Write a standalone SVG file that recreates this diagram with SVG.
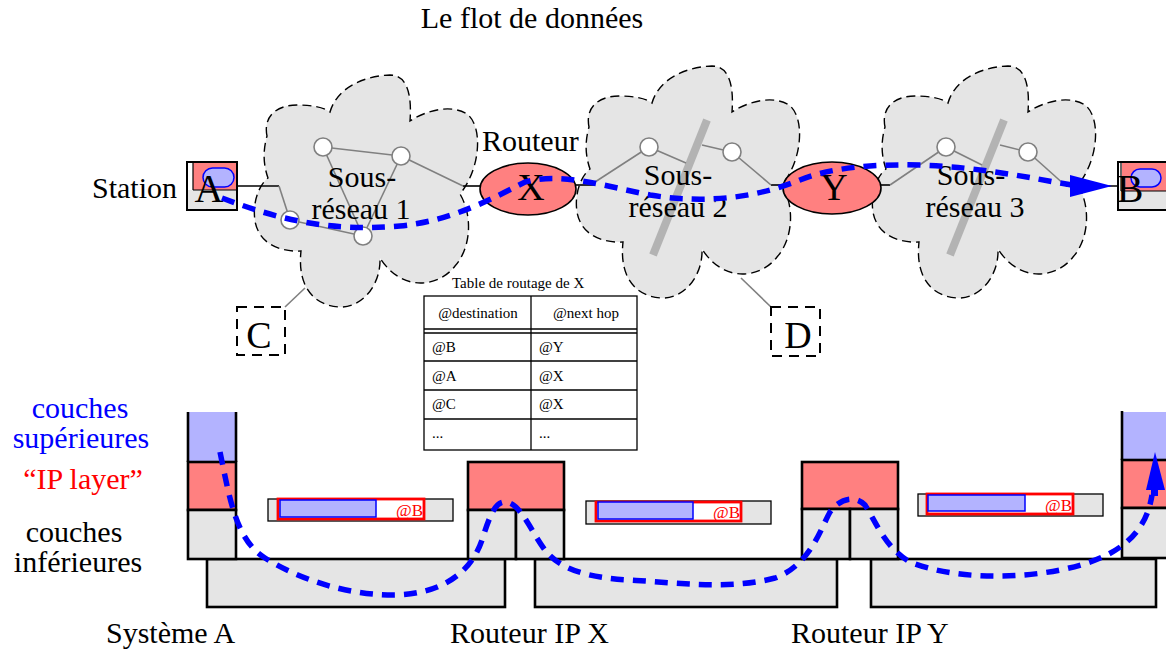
<svg xmlns="http://www.w3.org/2000/svg" xmlns:xlink="http://www.w3.org/1999/xlink" width="1166" height="655" viewBox="0 0 1166 655">
<style>
.cloud{fill:#e5e5e5;stroke:#000;stroke-width:1.4;stroke-dasharray:9 5}
.gl{stroke:#808080;stroke-width:1.6;fill:none}
.nd{fill:#fff;stroke:#808080;stroke-width:1.6}
.bar{stroke:#b3b3b3;stroke-width:8}
.bl{stroke:#000;stroke-width:1.6;fill:none}
.t{font-family:"Liberation Serif","Times New Roman",serif;fill:#000}
.flow{fill:none;stroke:#0000ff;stroke-width:5.5;stroke-dasharray:13 9}
.lay{stroke:#000;stroke-width:2.6}
.gray{fill:#e5e5e5}
.pink{fill:#ff8080}
.lblue{fill:#b3b3ff}
.cellt{font-size:15px}
.lbl{font-size:30px}
.big{font-size:40px}
.pk{fill:#e5e5e5;stroke:#000;stroke-width:1.3}
.pkr{fill:#fff;stroke:#ff0000;stroke-width:2.8}
.pkb{fill:#b3b3ff;stroke:#0000ff;stroke-width:1.5}
.pkt{font-size:17px;fill:#ff0000}
</style>
<defs>
<path id="cloudshape" d="M 12,60 C 8,40 22,29 42,29 C 56,29 68,31 75,36 C 82,12 108,0 135,-1 C 152,-1 157,18 155,45 C 172,34 196,28 212,38 C 228,50 226,92 205,118 C 218,140 216,172 200,190 C 185,210 148,218 125,182 C 126,210 106,232 85,231 C 60,230 42,212 46,175 C 25,176 4,168 0,145 C -3,125 5,108 13,102 C 8,88 8,74 12,60 Z"/>
</defs>
<rect width="1166" height="655" fill="#fff"/>
<text class="t" x="532" y="28" font-size="30" text-anchor="middle">Le flot de données</text>

<g id="cloud1">
<use xlink:href="#cloudshape" class="cloud" transform="translate(255,76)"/>
</g>
<g id="cloud2">
<use xlink:href="#cloudshape" class="cloud" transform="translate(577,67)"/>
</g>
<g id="cloud3">
<use xlink:href="#cloudshape" class="cloud" transform="translate(873,67)"/>
</g>

<g id="connectors">
<line class="bl" x1="237" y1="186" x2="279" y2="186"/>
<line class="bl" x1="463" y1="186" x2="481" y2="186"/>
<line class="bl" x1="576" y1="185" x2="595" y2="185"/>
<line class="bl" x1="771" y1="185" x2="785" y2="185"/>
<line class="bl" x1="880" y1="185" x2="890" y2="185"/>
<line class="bl" x1="1066" y1="186" x2="1118" y2="186"/>
<line class="gl" x1="285" y1="307" x2="305" y2="288"/>
<line class="gl" x1="771" y1="307" x2="741" y2="278"/>
<line class="gl" x1="323" y1="147" x2="401" y2="156"/>
<line class="gl" x1="323" y1="147" x2="363" y2="236"/>
<line class="gl" x1="401" y1="156" x2="363" y2="236"/>
<line class="gl" x1="290" y1="220" x2="363" y2="236"/>
<line class="gl" x1="401" y1="156" x2="463" y2="186"/>
<line class="gl" x1="290" y1="220" x2="279" y2="186"/>
<line class="bar" x1="707" y1="120" x2="653" y2="255"/>
<line class="gl" x1="595" y1="182" x2="649" y2="147"/>
<line class="gl" x1="649" y1="147" x2="686" y2="163"/>
<line class="gl" x1="702" y1="145" x2="732" y2="152"/>
<line class="gl" x1="732" y1="152" x2="771" y2="185"/>
<line class="bar" x1="1004" y1="120" x2="950" y2="255"/>
<line class="gl" x1="890" y1="185" x2="946" y2="147"/>
<line class="gl" x1="946" y1="147" x2="982" y2="165"/>
<line class="gl" x1="1000" y1="145" x2="1028" y2="152"/>
<line class="gl" x1="1028" y1="152" x2="1066" y2="186"/>
</g>

<g id="subnet-nodes">
<circle class="nd" cx="323" cy="147" r="9"/>
<circle class="nd" cx="401" cy="156" r="9"/>
<circle class="nd" cx="290" cy="220" r="9"/>
<circle class="nd" cx="363" cy="236" r="9"/>
<circle class="nd" cx="649" cy="147" r="9"/>
<circle class="nd" cx="732" cy="152" r="9"/>
<circle class="nd" cx="946" cy="147" r="9"/>
<circle class="nd" cx="1028" cy="152" r="9"/>
</g>

<g id="cloud-labels">
<text class="t lbl" x="362" y="187" text-anchor="middle">Sous-</text>
<text class="t lbl" x="361" y="219" text-anchor="middle">réseau 1</text>
<text class="t lbl" x="678" y="185" text-anchor="middle">Sous-</text>
<text class="t lbl" x="678" y="217" text-anchor="middle">réseau 2</text>
<text class="t lbl" x="971" y="185" text-anchor="middle">Sous-</text>
<text class="t lbl" x="975" y="217" text-anchor="middle">réseau 3</text>
</g>

<g id="stationA">
<text class="t lbl" x="92" y="198">Station</text>
<rect x="187" y="190" width="50" height="20" class="gray"/>
<rect x="193" y="162" width="44" height="28" class="pink"/>
<line x1="193" y1="162" x2="193" y2="190" stroke="#000" stroke-width="1.2"/>
<line x1="193" y1="190" x2="237" y2="190" stroke="#000" stroke-width="1.2"/>
<rect x="187" y="162" width="50" height="48" fill="none" stroke="#000" stroke-width="2"/>
<rect x="203" y="168" width="31" height="19" rx="9.5" fill="#b3b3ff" stroke="#0000ff" stroke-width="1.5"/>
<text class="t big" x="209" y="202" text-anchor="middle">A</text>
</g>

<g id="stationB">
<rect x="1118" y="191" width="50" height="19" class="gray"/>
<rect x="1122" y="162" width="46" height="29" class="pink"/>
<line x1="1121" y1="162" x2="1121" y2="191" stroke="#000" stroke-width="1.2"/>
<line x1="1121" y1="191" x2="1166" y2="191" stroke="#000" stroke-width="1.2"/>
<rect x="1118" y="162" width="50" height="48" fill="none" stroke="#000" stroke-width="2"/>
<rect x="1131" y="169" width="30" height="18" rx="9" fill="#b3b3ff" stroke="#0000ff" stroke-width="1.5"/>
<text class="t big" x="1130" y="202" text-anchor="middle">B</text>
</g>

<g id="routerX">
<text class="t lbl" x="482" y="151">Routeur</text>
<ellipse cx="528" cy="189" rx="48" ry="26" class="pink" stroke="#000" stroke-width="1.6"/>
<text class="t" x="531" y="200" font-size="38" text-anchor="middle">X</text>
</g>

<g id="routerY">
<ellipse cx="832" cy="188" rx="49" ry="26" class="pink" stroke="#000" stroke-width="1.6"/>
<text class="t" x="834" y="200" font-size="38" text-anchor="middle">Y</text>
</g>

<g id="stationC">
<rect x="237" y="307" width="48" height="48" fill="none" stroke="#000" stroke-width="2" stroke-dasharray="10 7"/>
<text class="t" x="259" y="348" font-size="38" text-anchor="middle">C</text>
</g>

<g id="stationD">
<rect x="771" y="307" width="49" height="49" fill="none" stroke="#000" stroke-width="2" stroke-dasharray="10 7"/>
<text class="t" x="798" y="348" font-size="38" text-anchor="middle">D</text>
</g>

<g id="routing-table">
<text class="t" x="452" y="288" font-size="15">Table de routage de X</text>
<rect x="424" y="296" width="213" height="154" fill="#fff" stroke="#000" stroke-width="1.3"/>
<line x1="424" y1="329" x2="637" y2="329" stroke="#000" stroke-width="1.3"/>
<line x1="424" y1="333" x2="637" y2="333" stroke="#000" stroke-width="1.3"/>
<line x1="424" y1="361" x2="637" y2="361" stroke="#000" stroke-width="1.3"/>
<line x1="424" y1="390" x2="637" y2="390" stroke="#000" stroke-width="1.3"/>
<line x1="424" y1="419" x2="637" y2="419" stroke="#000" stroke-width="1.3"/>
<line x1="531" y1="296" x2="531" y2="450" stroke="#000" stroke-width="1.3"/>
<text class="t cellt" x="478" y="318" text-anchor="middle">@destination</text>
<text class="t cellt" x="586" y="318" text-anchor="middle">@next hop</text>
<text class="t cellt" x="432" y="352">@B</text>
<text class="t cellt" x="539" y="352">@Y</text>
<text class="t cellt" x="432" y="381">@A</text>
<text class="t cellt" x="539" y="381">@X</text>
<text class="t cellt" x="432" y="409">@C</text>
<text class="t cellt" x="539" y="409">@X</text>
<text class="t cellt" x="432" y="438">...</text>
<text class="t cellt" x="539" y="438">...</text>
</g>

<g id="layer-labels">
<text class="t lbl" x="80" y="418" text-anchor="middle" style="fill:#0000ff">couches</text>
<text class="t lbl" x="81" y="448" text-anchor="middle" style="fill:#0000ff">supérieures</text>
<text class="t lbl" x="83" y="489" text-anchor="middle" style="fill:#ff0000">“IP layer”</text>
<text class="t lbl" x="74" y="542" text-anchor="middle">couches</text>
<text class="t lbl" x="78" y="572" text-anchor="middle">inférieures</text>
</g>

<g id="base-links">
<rect x="207" y="559" width="298" height="48" class="gray lay"/>
<rect x="535" y="559" width="302" height="48" class="gray lay"/>
<rect x="871" y="559" width="285" height="48" class="gray lay"/>
</g>

<g id="stackA">
<rect x="188" y="412" width="48" height="50" class="lblue"/>
<rect x="188" y="462" width="48" height="48" class="pink lay"/>
<rect x="188" y="510" width="48" height="49" class="gray lay"/>
<line class="lay" x1="188" y1="412" x2="188" y2="462"/>
<line class="lay" x1="236" y1="412" x2="236" y2="462"/>
</g>

<g id="stackX">
<rect x="468" y="462" width="96" height="48" class="pink lay"/>
<rect x="468" y="510" width="48" height="49" class="gray lay"/>
<rect x="516" y="510" width="48" height="49" class="gray lay"/>
</g>

<g id="stackY">
<rect x="802" y="462" width="96" height="47" class="pink lay"/>
<rect x="802" y="509" width="48" height="50" class="gray lay"/>
<rect x="850" y="509" width="48" height="50" class="gray lay"/>
</g>

<g id="stackB">
<rect x="1122" y="412" width="46" height="48" class="lblue"/>
<rect x="1122" y="460" width="46" height="48" class="pink lay"/>
<rect x="1122" y="508" width="46" height="50" class="gray lay"/>
<line class="lay" x1="1122" y1="411" x2="1122" y2="460"/>
</g>

<g id="packet1">
<rect x="268" y="499" width="185" height="22" class="pk"/>
<rect x="278" y="499" width="146" height="20" class="pkr"/>
<rect x="280" y="500" width="96" height="17" class="pkb"/>
<text class="t pkt" x="396" y="516">@B</text>
</g>
<g id="packet2">
<rect x="586" y="501" width="185" height="23" class="pk"/>
<rect x="596" y="502" width="145" height="19" class="pkr"/>
<rect x="598" y="502" width="95" height="17" class="pkb"/>
<text class="t pkt" x="713" y="518">@B</text>
</g>
<g id="packet3">
<rect x="918" y="494" width="185" height="22" class="pk"/>
<rect x="927" y="494" width="146" height="20" class="pkr"/>
<rect x="928" y="495" width="97" height="16" class="pkb"/>
<text class="t pkt" x="1045" y="511">@B</text>
</g>

<g id="bottom-labels">
<text class="t lbl" x="106" y="643">Système A</text>
<text class="t lbl" x="450" y="643">Routeur IP X</text>
<text class="t lbl" x="791" y="643">Routeur IP Y</text>
</g>

<g id="flows">
<path class="flow" d="M 222,198 C 280,220 330,232 400,226 C 450,221 490,200 525,182 C 560,172 600,185 650,195 C 710,205 760,196 800,180 C 830,168 870,164 920,165 C 980,167 1030,178 1072,185"/>
<polygon points="1112,186 1070,175 1070,197" fill="#0000ff"/>
<path class="flow" d="M 220,452 C 230,500 236,540 265,558 C 300,580 350,596 397,595 C 440,593 470,575 482,540 C 490,515 495,502 505,502 C 520,502 530,530 545,550 C 560,570 590,578 630,580 C 680,583 730,590 775,578 C 810,565 820,530 830,512 C 840,498 855,495 865,505 C 875,520 885,548 910,562 C 950,578 1010,580 1060,570 C 1110,560 1145,540 1152,495"/>
<polygon points="1155,452 1146,490 1165,490" fill="#0000ff"/>
<rect x="1151" y="488" width="7" height="8" fill="#0000ff"/>
</g>
</svg>
